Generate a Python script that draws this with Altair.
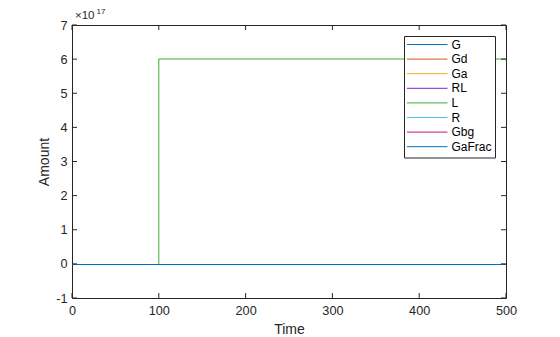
import altair as alt
import pandas as pd

# ---- data ----
time = [0, 100, 100, 500]
series_names = ["G", "Gd", "Ga", "RL", "L", "R", "Gbg", "GaFrac"]
G = [0, 0, 0, 0]
Gd = [0, 0, 0, 0]
Ga = [0, 0, 0, 0]
RL = [0, 0, 0, 0]
L = [0, 0, 6.022e17, 6.022e17]
R = [0, 0, 0, 0]
Gbg = [0, 0, 0, 0]
GaFrac = [0, 0, 0, 0]
colors = ["#0072BD", "#D95319", "#EDB120", "#7E1ED8", "#3AAA35", "#4DBEEE", "#C0148C", "#0072BD"]
x_ticks = [0, 100, 200, 300, 400, 500]
y_ticks = [-1, 0, 1, 2, 3, 4, 5, 6, 7]
exponent = 17

values = {"G": G, "Gd": Gd, "Ga": Ga, "RL": RL, "L": L, "R": R, "Gbg": Gbg, "GaFrac": GaFrac}
rows = []
for name in series_names:
    for i, (t, v) in enumerate(zip(time, values[name])):
        rows.append({"series": name, "time": t, "value": v / 10**exponent, "ord": i})
df = pd.DataFrame(rows)

W, H = 434, 273
FONT = "Liberation Sans"
TXT = "#262626"

xscale = alt.Scale(domain=[0, 500], nice=False, zero=False)
yscale = alt.Scale(domain=[-1, 7], nice=False, zero=False)

layers = []
# main axes (bottom / left)
base = alt.Chart(df).mark_line(strokeWidth=1, opacity=0).encode(
    x=alt.X("time:Q", scale=xscale,
            axis=alt.Axis(values=x_ticks, labelExpr="'' + datum.value", grid=False,
                          domain=True, domainColor=TXT, labelFlush=False,
                          ticks=False, labelPadding=6, labelFontSize=12.7, labelColor=TXT,
                          labelFont=FONT, title="Time", titleFontSize=14,
                          titleFontWeight="normal", titleColor=TXT, titleFont=FONT,
                          titlePadding=6, orient="bottom")),
    y=alt.Y("value:Q", scale=yscale,
            axis=alt.Axis(values=y_ticks, labelExpr="'' + datum.value", grid=False,
                          domain=True, domainColor=TXT, labelFlush=False,
                          ticks=False, labelPadding=5, labelFontSize=12.7, labelColor=TXT,
                          labelFont=FONT, title="Amount", titleFontSize=14,
                          titleFontWeight="normal", titleColor=TXT, titleFont=FONT,
                          titlePadding=4, orient="left")),
)
layers.append(base)
# frame axes (top / right)
frame = alt.Chart(df).mark_line(strokeWidth=1, opacity=0).encode(
    x=alt.X("time:Q", scale=xscale,
            axis=alt.Axis(orient="top", labels=False, ticks=False, grid=False, domain=True,
                          domainColor=TXT, title=None)),
    y=alt.Y("value:Q", scale=yscale,
            axis=alt.Axis(orient="right", labels=False, ticks=False, grid=False, domain=True,
                          domainColor=TXT, title=None)),
)
layers.append(frame)

for name, col in zip(series_names, colors):
    layers.append(
        alt.Chart(df).transform_filter(alt.datum.series == name).mark_line(
            strokeWidth=1, color=col, clip=True, yOffset=0.625
        ).encode(
            x=alt.X("time:Q", scale=xscale, axis=None),
            y=alt.Y("value:Q", scale=yscale, axis=None),
            order=alt.Order("ord:Q"),
        )
    )

# inward tick marks
xt = pd.DataFrame({"t": x_ticks})
yt = pd.DataFrame({"v": y_ticks})
for (a, b) in [(H, H - 5), (0, 5)]:
    layers.append(alt.Chart(xt).mark_rule(color=TXT, strokeWidth=1).encode(
        x=alt.X("t:Q", scale=xscale, axis=None), y=alt.value(a), y2=alt.value(b)))
for (a, b) in [(0, 5), (W, W - 5)]:
    layers.append(alt.Chart(yt).mark_rule(color=TXT, strokeWidth=1).encode(
        y=alt.Y("v:Q", scale=yscale, axis=None), x=alt.value(a), x2=alt.value(b)))

# exponent label
one = pd.DataFrame({"a": [0]})
layers.append(alt.Chart(one).mark_text(text="×10", font=FONT, fontSize=11.5, color=TXT,
                                       align="left", baseline="alphabetic").encode(
    x=alt.value(3), y=alt.value(-6)))
layers.append(alt.Chart(one).mark_text(text=str(exponent), font=FONT, fontSize=8, color=TXT,
                                       align="left", baseline="alphabetic").encode(
    x=alt.value(24.5), y=alt.value(-11)))

# legend
layers.append(alt.Chart(one).mark_rect(fill="white", stroke="#262626", strokeWidth=1).encode(
    x=alt.value(332.5), x2=alt.value(423.5), y=alt.value(11.5), y2=alt.value(133)))
leg = pd.DataFrame({"series": series_names, "idx": list(range(len(series_names)))})
leg_base = alt.Chart(leg).transform_calculate(
    ly="19.5 + datum.idx * 14.6", lx1="335", lx2="375.5", tx="379.5")
layers.append(leg_base.mark_rule(strokeWidth=1).encode(
    x=alt.X("lx1:Q", scale=None), x2="lx2:Q", y=alt.Y("ly:Q", scale=None),
    color=alt.Color("series:N", scale=alt.Scale(domain=series_names, range=colors), legend=None)))
layers.append(leg_base.mark_text(align="left", baseline="middle", font=FONT, fontSize=12,
                                 color="#000000").encode(
    x=alt.X("tx:Q", scale=None), y=alt.Y("ly:Q", scale=None), text="series:N"))

chart = alt.layer(*layers).resolve_axis(x="independent", y="independent").properties(
    width=W, height=H,
    autosize=alt.AutoSizeParams(type="none"),
    padding={"left": 72, "top": 25, "right": 54, "bottom": 39},
).configure_view(stroke=None).configure(background="white")

chart.save("out.html", embed_options={"renderer": "svg", "actions": False})
